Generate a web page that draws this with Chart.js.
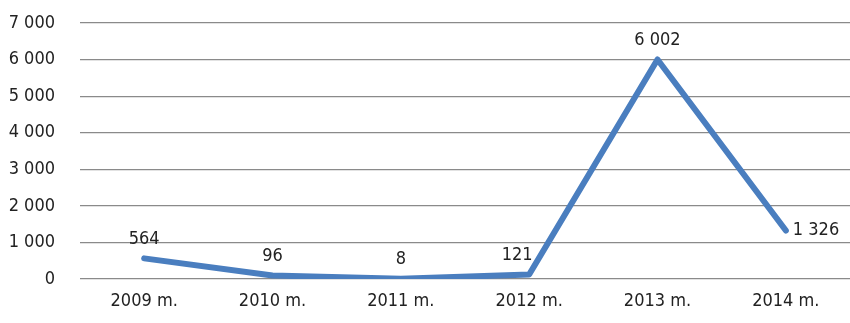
<!DOCTYPE html>
<html><head><meta charset="utf-8">
<script src="https://cdn.jsdelivr.net/npm/chart.js@4/dist/chart.umd.min.js"></script>
<style>html,body{margin:0;padding:0;background:#fff}#wrap{width:850px;height:323px}</style>
</head><body><div id="wrap"><canvas id="c"></canvas></div>
<script>
const categories = ["2009 m.", "2010 m.", "2011 m.", "2012 m.", "2013 m.", "2014 m."];
const values = [564, 96, 8, 121, 6002, 1326];
const labelPos = ["top", "top", "top", "topleft", "top", "right"];
const yMin = 0, yMax = 7000, yStep = 1000;

const fmt = v => String(v).replace(/\B(?=(\d{3})+(?!\d))/g, " ");
const FONT = '"DejaVu Sans Condensed", "Liberation Sans Narrow", sans-serif';
const FS = 18;

const labelPlugin = {
  id: 'vlabels',
  afterDatasetsDraw(chart) {
    const ctx = chart.ctx;
    const meta = chart.getDatasetMeta(0);
    ctx.save();
    ctx.font = FS + 'px ' + FONT;
    ctx.fillStyle = '#222';
    meta.data.forEach((pt, i) => {
      const t = fmt(values[i]);
      const p = labelPos[i];
      if (p === 'right') {
        ctx.textAlign = 'left'; ctx.textBaseline = 'middle';
        ctx.fillText(t, pt.x + 7, pt.y);
      } else if (p === 'topleft') {
        ctx.textAlign = 'center'; ctx.textBaseline = 'bottom';
        ctx.fillText(t, pt.x - 12, pt.y - 10);
      } else {
        ctx.textAlign = 'center'; ctx.textBaseline = 'bottom';
        ctx.fillText(t, pt.x, pt.y - 10);
      }
    });
    ctx.restore();
  }
};

new Chart(document.getElementById('c'), {
  type: 'line',
  data: {
    labels: categories,
    datasets: [{
      data: values,
      borderColor: '#4a7ebf',
      borderWidth: 6,
      borderCapStyle: 'round',
      borderJoinStyle: 'round',
      pointRadius: 0,
      tension: 0,
      fill: false
    }]
  },
  options: {
    responsive: true,
    maintainAspectRatio: false,
    animation: false,
    layout: { padding: { top: 23, right: 0, left: 0, bottom: 0 } },
    plugins: { legend: { display: false }, tooltip: { enabled: false } },
    scales: {
      x: {
        offset: true,
        grid: { display: false, drawTicks: false },
        border: { display: false },
        ticks: { color: '#222', font: { family: FONT, size: FS }, padding: 12, maxRotation: 0 },
        afterFit(s) { s.height = 44; s.paddingLeft = 0; s.paddingRight = 0; }
      },
      y: {
        min: yMin, max: yMax,
        grid: { color: '#8a8a8a', lineWidth: 1.2, drawTicks: false },
        border: { display: false },
        ticks: { stepSize: yStep, color: '#222', font: { family: FONT, size: FS }, padding: 25, callback: v => fmt(v) },
        afterFit(s) { s.width = 80; s.paddingTop = 0; s.paddingBottom = 0; }
      }
    }
  },
  plugins: [labelPlugin]
});
</script></body></html>
